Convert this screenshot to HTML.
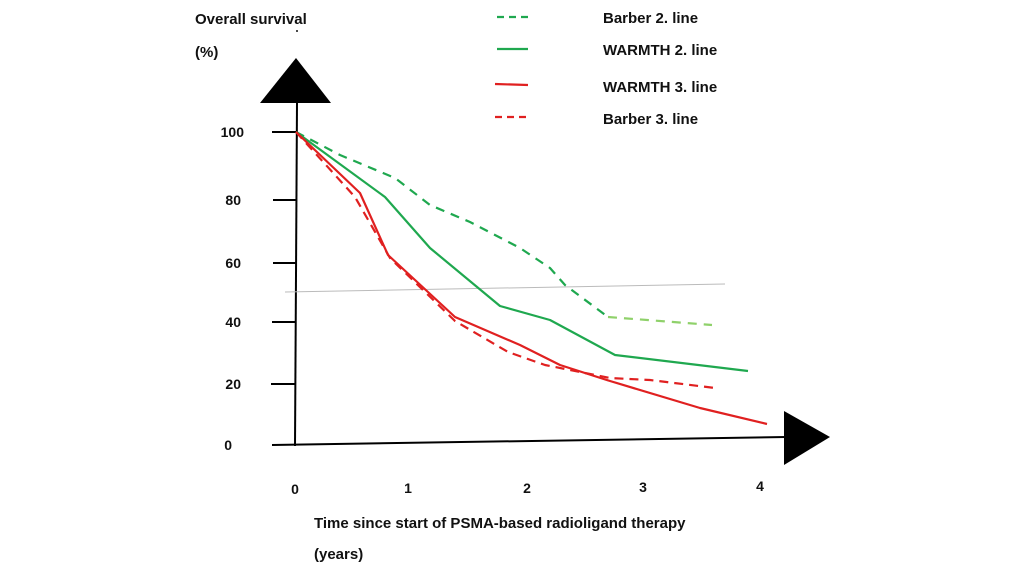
<!DOCTYPE html>
<html><head><meta charset="utf-8"><style>
html,body{margin:0;padding:0;background:#fff;}
svg{display:block}
text{font-family:"Liberation Sans",Arial,sans-serif;font-weight:bold;fill:#111;}
</style></head><body>
<svg width="1024" height="576" viewBox="0 0 1024 576" xmlns="http://www.w3.org/2000/svg">
<text x="195" y="24" font-size="15">Overall survival</text>
<text x="195" y="57" font-size="15">(%)</text>
<circle cx="297" cy="31" r="1" fill="#111"/>
<polygon points="296,58 260,103 331,103" fill="#000"/>
<line x1="297" y1="103" x2="295" y2="446" stroke="#000" stroke-width="2"/>
<g stroke="#000" stroke-width="2">
<line x1="272" y1="132" x2="296" y2="132"/>
<line x1="273" y1="200" x2="296" y2="200"/>
<line x1="273" y1="263" x2="296" y2="263"/>
<line x1="272" y1="322" x2="296" y2="322"/>
<line x1="271" y1="384" x2="296" y2="384"/>
<line x1="272" y1="445" x2="786" y2="437"/>
</g>
<polygon points="784,411 830,437 784,465" fill="#000"/>
<g font-size="14" text-anchor="end">
<text x="244" y="137">100</text><text x="241" y="205">80</text><text x="241" y="268">60</text><text x="241" y="327">40</text><text x="241" y="389">20</text><text x="232" y="450">0</text>
</g>
<g font-size="14" text-anchor="middle">
<text x="295" y="494">0</text><text x="408" y="493">1</text><text x="527" y="493">2</text><text x="643" y="492">3</text><text x="760" y="491">4</text>
</g>
<text x="314" y="528" font-size="15">Time since start of PSMA-based radioligand therapy</text>
<text x="314" y="559" font-size="15">(years)</text>
<line x1="285" y1="292" x2="725" y2="284" stroke="#bbb" stroke-width="1"/>
<g fill="none" stroke-width="2.2" stroke-linejoin="round">
<polyline stroke="#1fa84f" stroke-dasharray="9,7" points="296,132 340,155 395,178 430,205 470,222 520,248 550,268 565,285 608,317"/>
<polyline stroke="#8fd16a" stroke-dasharray="9,7" points="608,317 712,325"/>
<polyline stroke="#1fa84f" points="296,132 385,197 430,248 500,306 550,320 615,355 748,371"/>
<polyline stroke="#e02020" points="296,132 360,193 388,255 455,317 520,345 560,365 610,381 700,408 767,424"/>
<polyline stroke="#e02020" stroke-dasharray="9,6" points="296,132 355,197 390,258 455,321 508,352 545,365 610,378 650,380 715,388"/>
<line x1="497" y1="17" x2="528" y2="17" stroke="#1fa84f" stroke-dasharray="7,5"/>
<line x1="497" y1="49" x2="528" y2="49" stroke="#1fa84f"/>
<line x1="495" y1="84" x2="528" y2="85" stroke="#e02020"/>
<line x1="495" y1="117" x2="528" y2="117" stroke="#e02020" stroke-dasharray="7,5"/>
</g>
<g font-size="15">
<text x="603" y="23">Barber 2. line</text>
<text x="603" y="55">WARMTH 2. line</text>
<text x="603" y="92">WARMTH 3. line</text>
<text x="603" y="124">Barber 3. line</text>
</g>
</svg>
</body></html>
